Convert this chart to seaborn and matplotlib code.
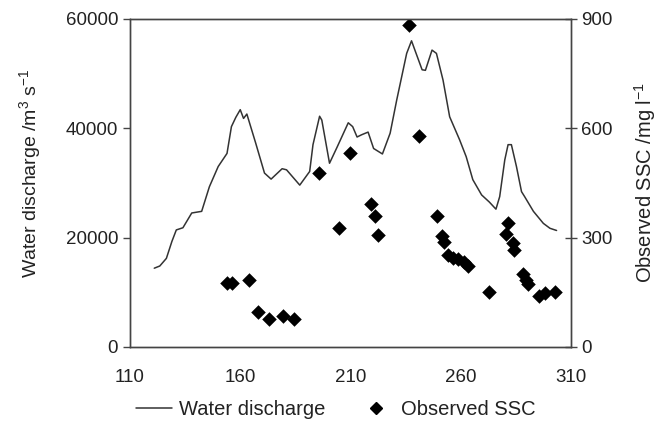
import seaborn as sns
import matplotlib.pyplot as plt
import numpy as np
from matplotlib.lines import Line2D

# Caudal diario (dia juliano, m3/s)
q_day = [121, 123.5, 126.5, 129, 131, 134, 138, 142.5, 146, 150, 154, 156, 158, 160,
         161.5, 163, 167, 171, 174, 179, 181, 187, 191.5, 193, 196, 197, 200.5, 204,
         209, 211, 213, 215, 218, 220.5, 224.5, 228, 231, 235.5, 237.7, 239.5, 242.5,
         244, 247, 249, 252, 255, 259.5, 262.5, 265.5, 269.5, 273, 276, 277.7, 280,
         281.5, 283, 285.3, 287.6, 289, 293, 297.5, 300.5, 303.5]
discharge = [14400, 14800, 16200, 19300, 21400, 21800, 24500, 24800, 29300, 33000,
             35400, 40300, 42000, 43400, 41800, 42600, 37300, 31800, 30700, 32600,
             32400, 29600, 32100, 37000, 42200, 41500, 33600, 36600, 41000, 40300,
             38400, 38800, 39300, 36300, 35300, 39100, 45200, 53700, 56000, 54000,
             50700, 50600, 54300, 53700, 48800, 42100, 37900, 34800, 30600, 27800,
             26500, 25200, 27500, 34200, 37000, 37000, 33000, 28400, 27500, 24800,
             22600, 21700, 21300]

# SSC observado (mg/l)
ssc_day = [153.8, 156.1, 164.1, 168.2, 173.2, 179.5, 184.3, 195.8, 204.9, 209.7,
           219.5, 221, 222.6, 236.6, 241, 249.4, 251.3, 252.6, 254.3, 256.6, 258.8,
           261.5, 263.5, 272.8, 281.3, 280.5, 283.6, 284.2, 288.3, 289.8, 290.6,
           295.6, 298.1, 302.9]
ssc = [175, 175, 184, 97, 76, 85, 77, 477, 325, 532, 392, 358, 307, 884, 580, 358,
       303, 287, 252, 243, 240, 234, 222, 151, 341, 310, 285, 265, 200, 184, 173,
       140, 147, 150]

sns.set_style("white")
plt.rcParams['font.family'] = ['Liberation Sans', 'DejaVu Sans']
plt.rcParams['mathtext.fontset'] = 'custom'
plt.rcParams['mathtext.rm'] = 'Liberation Sans'
plt.rcParams['mathtext.it'] = 'Liberation Sans'
plt.rcParams['mathtext.default'] = 'rm'

txt = "#222222"
fig, ax = plt.subplots(figsize=(6.6, 4.21), dpi=100)
fig.subplots_adjust(left=0.197, right=0.865, bottom=0.176, top=0.955)

sns.lineplot(x=q_day, y=discharge, ax=ax, color="#333333", linewidth=1.1,
             estimator=None, sort=False)
ax.set_xlim(110, 310)
ax.set_ylim(0, 60000)
ax.set_xticks(np.arange(110, 311, 50))
ax.set_yticks(np.arange(0, 60001, 20000))
ax.set_ylabel("Water discharge /m$^{3}$ s$^{-1}$", fontsize=14, color=txt)
ax.yaxis.set_label_coords(-0.198, 0.53)

ax2 = ax.twinx()
sns.scatterplot(x=ssc_day, y=ssc, ax=ax2, marker="D", color="black", s=55,
                edgecolor="black", linewidth=0)
ax2.set_ylim(0, 900)
ax2.set_yticks([0, 300, 600, 900])
ax2.set_ylabel("Observed SSC /mg l$^{-1}$", fontsize=14.5, color=txt, labelpad=14)

for a in (ax, ax2):
    for s in a.spines.values():
        s.set_color("#444444")
        s.set_linewidth(1.0)
    a.tick_params(labelsize=13.5, colors=txt, length=5, width=1, color="#444444")
ax.tick_params(axis="both", direction="out")
ax2.tick_params(axis="y", direction="inout", length=8)
ax.tick_params(axis="x", pad=11)

handles = [Line2D([0], [0], color="#333333", lw=1.1),
           Line2D([0], [0], marker="D", color="black", lw=0, markersize=6)]
fig.legend(handles, ["Water discharge", "Observed SSC"], loc="lower center",
           ncol=2, frameon=False, fontsize=14.5, bbox_to_anchor=(0.509, -0.039),
           handlelength=1.8, handletextpad=0.35, columnspacing=1.6, labelcolor=txt)

plt.savefig("out.png", dpi=100)
